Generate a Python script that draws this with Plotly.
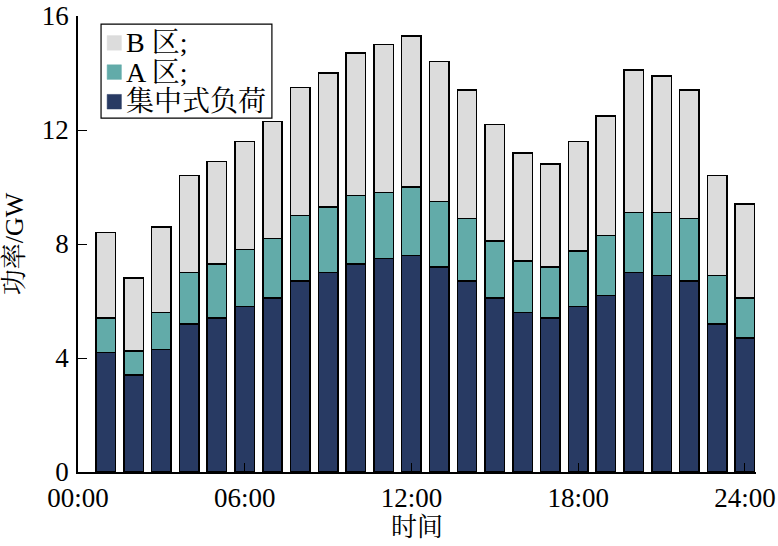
import plotly.graph_objects as go

# 数据：每小时负荷 (GW)
hours = list(range(1, 25))
central = [4.2, 3.4, 4.3, 5.2, 5.4, 5.8, 6.1, 6.7, 7.0, 7.3, 7.5, 7.6,
           7.2, 6.7, 6.1, 5.6, 5.4, 5.8, 6.2, 7.0, 6.9, 6.7, 5.2, 4.7]
zone_a = [1.2, 0.85, 1.3, 1.8, 1.9, 2.0, 2.1, 2.3, 2.3, 2.4, 2.3, 2.4,
          2.3, 2.2, 2.0, 1.8, 1.8, 1.95, 2.1, 2.1, 2.2, 2.2, 1.7, 1.4]
zone_b = [3.0, 2.55, 3.0, 3.4, 3.6, 3.8, 4.1, 4.5, 4.7, 5.0, 5.2, 5.3,
          4.9, 4.5, 4.1, 3.8, 3.6, 3.85, 4.2, 5.0, 4.8, 4.5, 3.5, 3.3]

tick_vals = [0, 6, 12, 18, 24]
tick_text = ["00:00", "06:00", "12:00", "18:00", "24:00"]

names = ["B 区;", "A 区;", "集中式负荷"]
colors = ["#DCDCDC", "#62ABA9", "#283A63"]

FONT = "Liberation Serif, Times New Roman, Noto Serif CJK SC, Noto Sans CJK SC, serif"
line = dict(color="black", width=1.5)

fig = go.Figure()
fig.add_trace(go.Bar(x=hours, y=central, name=names[2], width=0.7,
                     marker=dict(color=colors[2], line=line)))
fig.add_trace(go.Bar(x=hours, y=zone_a, name=names[1], width=0.7,
                     marker=dict(color=colors[1], line=line)))
fig.add_trace(go.Bar(x=hours, y=zone_b, name=names[0], width=0.7,
                     marker=dict(color=colors[0], line=line)))

# 图例（手绘，便于控制行距）
fig.add_shape(type="rect", xref="paper", yref="paper",
              x0=0.034, x1=0.286, y0=0.776, y1=0.982,
              line=dict(color="black", width=1.2), fillcolor="white", layer="above")
row_y = [0.941, 0.877, 0.812]
for name, col, yc in zip(names, colors, row_y):
    fig.add_shape(type="rect", xref="paper", yref="paper",
                  x0=0.043, x1=0.064, y0=yc - 0.016, y1=yc + 0.016,
                  line=dict(color=col, width=0.5), fillcolor=col, layer="above")
    fig.add_annotation(xref="paper", yref="paper", x=0.068, y=yc,
                       xanchor="left", yanchor="middle", showarrow=False,
                       text=name, font=dict(size=28))

fig.update_layout(
    width=778, height=546,
    barmode="stack",
    plot_bgcolor="white", paper_bgcolor="white",
    margin=dict(l=78, r=22, t=16, b=74),
    font=dict(family=FONT, size=27, color="black"),
    showlegend=False,
)

fig.update_xaxes(range=[0, 24.4], tickvals=tick_vals, ticktext=tick_text,
                 showline=True, linecolor="black", linewidth=1.5,
                 ticks="inside", ticklen=9, tickcolor="black",
                 showgrid=False, zeroline=False, automargin=False,
                 ticklabelstandoff=1,
                 title=dict(text="时间", standoff=6, font=dict(size=26)))
fig.update_yaxes(range=[0, 16], tickvals=[0, 4, 8, 12, 16],
                 showline=True, linecolor="black", linewidth=1.5,
                 ticks="inside", ticklen=9, tickcolor="black",
                 showgrid=False, zeroline=False, automargin=False,
                 ticklabelstandoff=2,
                 title=dict(text="功率/GW", standoff=14, font=dict(size=26)))

# 去掉页面 body 的默认 8px 边距，让画布正好铺满窗口
fig.write_html("out.html", config={"displayModeBar": False},
               post_script="document.body.style.margin='0';")
